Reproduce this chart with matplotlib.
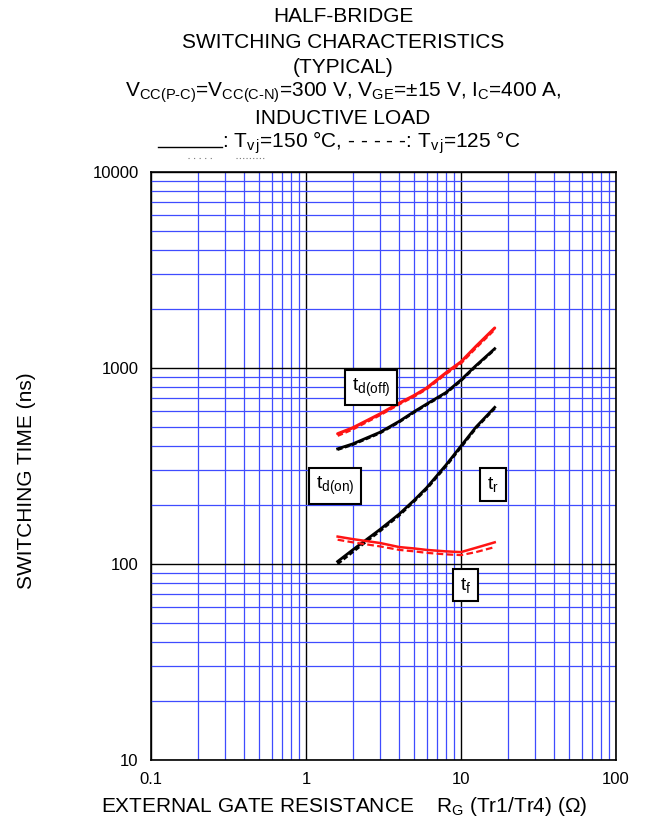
import matplotlib
matplotlib.use("Agg")
import matplotlib.pyplot as plt
import numpy as np
from matplotlib.lines import Line2D
from matplotlib.ticker import FixedLocator, LogLocator, NullFormatter

plt.rcParams["font.family"] = ["Liberation Sans", "DejaVu Sans"]
plt.rcParams["mathtext.fontset"] = "custom"
plt.rcParams["mathtext.rm"] = "Liberation Sans"
plt.rcParams["mathtext.it"] = "Liberation Sans"

# external gate resistance (ohm)
rg = [1.6, 2.0, 3.0, 4.0, 5.0, 6.0, 8.0, 10.0, 12.5, 16.5]

# switching times (ns)
tdoff_150 = [462, 495, 583, 662, 725, 790, 945, 1075, 1290, 1600]
tdoff_125 = [452, 487, 576, 655, 718, 782, 935, 1060, 1270, 1575]
tdoff_blk_150 = [387, 410, 470, 535, 600, 655, 750, 870, 1030, 1255]
tdoff_blk_125 = [383, 406, 465, 530, 594, 649, 742, 860, 1020, 1242]
tr_150 = [103, 118, 150, 180, 212, 245, 320, 400, 500, 630]
tr_125 = [100, 115, 147, 177, 209, 241, 315, 394, 493, 622]
tf_150 = [138, 134, 128, 122, 120, 118, 116, 115, 121, 129]
tf_125 = [133, 129, 123, 118, 116, 114, 112, 111, 115, 122]

x_ticks = [0.1, 1, 10, 100]
x_ticklabels = ["0.1", "1", "10", "100"]
y_ticks = [10, 100, 1000, 10000]
y_ticklabels = ["10", "100", "1000", "10000"]

fig = plt.figure(figsize=(6.45, 8.23), dpi=100)
ax = fig.add_axes([151 / 645, 1 - 760 / 823, (616 - 151) / 645, (760 - 172) / 823])
ax.set_xscale("log")
ax.set_yscale("log")
ax.set_xlim(0.1, 100)
ax.set_ylim(10, 10000)

ax.xaxis.set_major_locator(FixedLocator(x_ticks))
ax.set_xticklabels(x_ticklabels)
ax.yaxis.set_major_locator(FixedLocator(y_ticks))
ax.set_yticklabels(y_ticklabels)
for axis in (ax.xaxis, ax.yaxis):
    axis.set_minor_locator(LogLocator(base=10, subs=np.arange(2, 10)))
    axis.set_minor_formatter(NullFormatter())
ax.tick_params(which="both", length=0, labelsize=12, pad=9)

ax.set_axisbelow(True)
ax.grid(which="minor", color="#3f4cff", lw=0.9)
ax.grid(which="major", color="black", lw=1.0)
for s in ax.spines.values():
    s.set_linewidth(1.2)

red = "#ff1414"
ax.plot(rg, tdoff_150, color=red, lw=2.2, solid_capstyle="round")
ax.plot(rg, tdoff_125, color=red, lw=2.0, ls=(0, (2, 1)))
ax.plot(rg, tdoff_blk_150, color="black", lw=2.0)
ax.plot(rg, tdoff_blk_125, color="black", lw=1.8, ls=(0, (2, 1)))
ax.plot(rg, tr_150, color="black", lw=2.0)
ax.plot(rg, tr_125, color="black", lw=1.8, ls=(0, (2, 1)))
ax.plot(rg, tf_150, color=red, lw=1.8)
ax.plot(rg, tf_125, color=red, lw=1.6, ls=(0, (3, 1.5)))

box = dict(boxstyle="square,pad=0.35", fc="white", ec="black", lw=1.5)
ax.text(2.64, 796, r"t$_{\mathrm{d(off)}}$", fontsize=14, ha="center", va="center", bbox=box, zorder=5)
ax.text(1.54, 250, r"t$_{\mathrm{d(on)}}$", fontsize=14, ha="center", va="center", bbox=box, zorder=5)
ax.text(16.1, 254, r"t$_{\mathrm{r}}$", fontsize=14, ha="center", va="center", bbox=box, zorder=5)
ax.text(10.7, 78, r"t$_{\mathrm{f}}$", fontsize=14, ha="center", va="center", bbox=box, zorder=5)

ax.set_xlabel(r"EXTERNAL GATE RESISTANCE    R$_{\mathrm{G}}$ (Tr1/Tr4) ($\Omega$)", fontsize=15)
ax.xaxis.set_label_coords((344 - 151) / 465, -(795 - 760) / 588)
ax.set_ylabel("SWITCHING TIME (ns)", fontsize=15)
ax.yaxis.set_label_coords((36 - 151) / 465, (760 - 481) / 588)

# title block
cx = 343 / 645
title_lines = [
    "HALF-BRIDGE",
    "SWITCHING CHARACTERISTICS",
    "(TYPICAL)",
    r"V$_{\text{CC(P-C)}}$=V$_{\text{CC(C-N)}}$=300 V, V$_{\text{GE}}$=±15 V, I$_{\text{C}}$=400 A,",
    "INDUCTIVE LOAD",
]
for i, line in enumerate(title_lines):
    fig.text(cx, 1 - (17 + 25.3 * i) / 823, line, fontsize=15, ha="center", va="center")

fig.text(222 / 645, 1 - 143 / 823,
         r": T$_{\mathrm{v\,j}}$=150 °C, - - - - -: T$_{\mathrm{v\,j}}$=125 °C",
         fontsize=15, ha="left", va="center")
fig.add_artist(Line2D([158 / 645, 222 / 645], [1 - 147 / 823] * 2, color="black", lw=1.0,
                      transform=fig.transFigure))
fig.add_artist(Line2D([188 / 645, 214 / 645], [1 - 158 / 823] * 2, color="#777777", lw=0.8,
                      ls=(0, (1, 4)), transform=fig.transFigure))
fig.add_artist(Line2D([236 / 645, 266 / 645], [1 - 158 / 823] * 2, color="#777777", lw=0.8,
                      ls=(0, (1, 2)), transform=fig.transFigure))

fig.savefig("out.png", dpi=100)
